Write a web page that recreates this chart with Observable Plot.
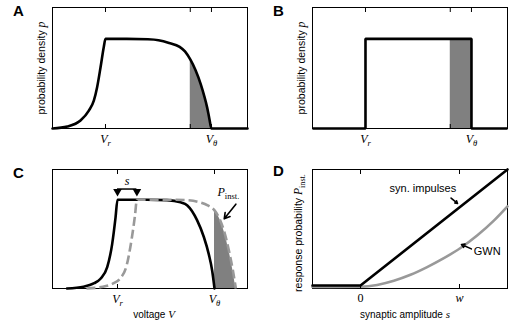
<!DOCTYPE html>
<html><head><meta charset="utf-8">
<script src="https://cdn.jsdelivr.net/npm/d3@7"></script>
<script src="https://cdn.jsdelivr.net/npm/@observablehq/plot@0.6"></script>
<style>
body{margin:0;background:#fff;}
#fig{position:relative;width:520px;height:321px;overflow:hidden;}
#fig svg{position:absolute;}
</style></head><body><div id="fig"></div>
<script>
// ---------- data ----------
// Panels A & B: voltage axis, V_r = 0, V_theta = 1
const ticksAB = [0, 0.8, 1];
const tickValsAB = [0, 1];
const tickLabelsAB = ["$V_r$", "$V_θ$"];
const shadeFromAB = 0.8;
const densityA = [[-0.5,0],[-0.36,0.022],[-0.236,0.089],[-0.157,0.2],[-0.11,0.31],[-0.079,0.46],[-0.047,0.68],[-0.016,0.91],[0,1.0],[0.2,1.0],[0.4,0.995],[0.5,0.985],[0.6,0.955],[0.7,0.91],[0.75,0.86],[0.8,0.77],[0.85,0.65],[0.9,0.49],[0.93,0.37],[0.96,0.23],[0.98,0.11],[1.0,0],[1.34,0]];
const densityB = [[-0.5,0],[0,0],[0,1],[1,1],[1,0],[1.34,0]];
const shadeB = [[0.8,1],[1,1]];
// Panel C
const ticksC = [0, 1];
const tickLabelsC = ["$V_r$", "$V_θ$"];
const densityC = [[-0.52,0],[-0.35,0.02],[-0.24,0.06],[-0.175,0.11],[-0.106,0.24],[-0.055,0.5],[-0.02,0.8],[0,1.0],[0.3,1.0],[0.51,0.995],[0.65,0.97],[0.72,0.935],[0.82,0.77],[0.89,0.58],[0.94,0.39],[0.976,0.2],[1.0,0]];
const shiftedC = [[-0.32,0],[-0.15,0.02],[-0.04,0.06],[0.025,0.11],[0.094,0.26],[0.145,0.55],[0.18,0.82],[0.2,1.0],[0.5,1.0],[0.71,0.995],[0.85,0.97],[0.93,0.935],[1.0,0.88],[1.05,0.79],[1.1,0.64],[1.15,0.42],[1.19,0.2],[1.22,0]];
const shadeFromC = 1.0;
const sBracket = [{x1: 0, x2: 0.2, y: 1.12}];
const sEnds = [0, 0.2];
const sLabel = [{x: 0.1, y: 1.21, text: "$s$"}];
const pLabel = [{x: 1.03, y: 1.08, text: "$P_{inst.}$"}];
const arrowC = [{x1: 1.22, y1: 0.95, x2: 1.1, y2: 0.785}];
// Panel D
const ticksD = [0, 1];
const tickLabelsD = ["$0$", "$w$"];
const synImpulses = [[-0.485,0.025],[0,0.025],[1.485,1.0]];
const gwn = [[-0.485,0.012],[0,0.015],[0.168,0.03],[0.337,0.065],[0.505,0.115],[0.673,0.18],[0.842,0.255],[1.01,0.34],[1.178,0.445],[1.347,0.57],[1.485,0.69]];
const labelsD = [{x: 0.63, y: 0.84, text: "syn. impulses"}, {x: 1.28, y: 0.31, text: "GWN"}];
const arrowsD = [{x1: 0.915, y1: 0.76, x2: 0.98, y2: 0.715}, {x1: 1.12, y1: 0.333, x2: 1.02, y2: 0.37}];

// ---------- helpers ----------
const GRAY = "#808080", LGRAY = "#999999";
const SANS = "Liberation Sans, Arial, Helvetica, sans-serif";
const SERIF = "Liberation Serif, DejaVu Serif, serif";
const baseStyle = {fontFamily: SANS, fontSize: "11px", background: "transparent", overflow: "visible", color: "black"};
const X = d => d[0], Y = d => d[1];

function tickMarks(vals) {
  return [
    Plot.axisX(vals, {anchor: "top", tickSize: -4, tickFormat: () => "", label: null, strokeWidth: 1}),
    Plot.axisX(vals, {anchor: "bottom", tickSize: -4, tickFormat: () => "", label: null, strokeWidth: 1})
  ];
}
function tickText(vals, labels, dy) {
  return Plot.text(vals, {x: d => d, text: (d, i) => labels[i], frameAnchor: "bottom", lineAnchor: "middle", dy, fontSize: 11});
}
function letter(l, dx, dy) {
  return Plot.text([l], {text: d => d, frameAnchor: "top-left", lineAnchor: "middle", dx, dy, fontWeight: "bold", fontSize: 15, textAnchor: "middle"});
}
function ylab(t, dx, dy = 0) {
  return Plot.text([t], {text: d => d, frameAnchor: "left", textAnchor: "middle", lineAnchor: "middle", rotate: -90, dx, dy, fontSize: 10.5});
}
function xlab(t, dy, dx = 0) {
  return Plot.text([t], {text: d => d, frameAnchor: "bottom", lineAnchor: "middle", dx, dy, fontSize: 10});
}

function richText(svg) {
  svg.querySelectorAll("text").forEach(el => {
    const s = el.textContent;
    if (!s.includes("$")) return;
    const fs = parseFloat(getComputedStyle(el).fontSize) || 11;
    while (el.firstChild) el.removeChild(el.firstChild);
    let pending = 0;
    const add = (txt, attrs) => {
      const t = document.createElementNS("http://www.w3.org/2000/svg", "tspan");
      t.textContent = txt;
      for (const k in attrs) t.setAttribute(k, attrs[k]);
      el.appendChild(t);
    };
    s.split("$").forEach((p, i) => {
      if (!p) return;
      if (i % 2 === 0) {
        const a = {};
        if (pending) { a.dy = pending; pending = 0; }
        add(p, a);
        return;
      }
      const re = /_\{([^}]*)\}|_(.)|(.)/gu;
      let m;
      while ((m = re.exec(p))) {
        if (m[1] !== undefined || m[2] !== undefined) {
          const sub = m[1] !== undefined ? m[1] : m[2];
          const italic = m[2] !== undefined;
          const d = fs * 0.28;
          add(sub, {"font-family": SERIF, "font-style": italic ? "italic" : "normal", "font-size": fs * 0.78, dy: d + pending});
          pending = -d;
        } else {
          const c = m[3];
          const a = {"font-family": SERIF, "font-style": /[A-Za-zθ]/.test(c) ? "italic" : "normal", "font-size": fs * 1.1};
          if (pending) { a.dy = pending; pending = 0; }
          add(c, a);
        }
      }
    });
  });
}

const fig = document.getElementById("fig");
function place(svg, left, top) {
  svg.style.left = left + "px";
  svg.style.top = top + "px";
  fig.appendChild(svg);
  richText(svg);
}

const common = {width: 260, marginLeft: 52, marginRight: 13, style: baseStyle};

// ---------- Panel A ----------
place(Plot.plot({
  ...common, height: 160, marginTop: 7, marginBottom: 32,
  x: {domain: [-0.5, 1.34], axis: null}, y: {domain: [0, 1.35], axis: null},
  marks: [
    Plot.areaY(densityA.filter(d => d[0] >= shadeFromAB), {x: X, y: Y, fill: GRAY, curve: "monotone-x"}),
    Plot.frame({stroke: "black", strokeWidth: 1}),
    Plot.line(densityA, {x: X, y: Y, stroke: "black", strokeWidth: 2.6, curve: "monotone-x"}),
    ...tickMarks(ticksAB),
    tickText(tickValsAB, tickLabelsAB, 11),
    ylab("probability density $p$", -11),
    letter("A", -34, 4)
  ]
}), 0, 0);

// ---------- Panel B ----------
place(Plot.plot({
  ...common, height: 160, marginTop: 7, marginBottom: 32,
  x: {domain: [-0.5, 1.34], axis: null}, y: {domain: [0, 1.35], axis: null},
  marks: [
    Plot.areaY(shadeB, {x: X, y: Y, fill: GRAY}),
    Plot.frame({stroke: "black", strokeWidth: 1}),
    Plot.line(densityB, {x: X, y: Y, stroke: "black", strokeWidth: 2.6, strokeLinejoin: "miter", strokeLinecap: "butt"}),
    ...tickMarks(ticksAB),
    tickText(tickValsAB, tickLabelsAB, 11),
    ylab("probability density $p$", -11),
    letter("B", -34, 4)
  ]
}), 260, 0);

// ---------- Panel C ----------
place(Plot.plot({
  ...common, height: 161, marginTop: 9, marginBottom: 33,
  x: {domain: [-0.67, 1.34], axis: null}, y: {domain: [0, 1.34], axis: null},
  marks: [
    Plot.areaY(shiftedC.filter(d => d[0] >= shadeFromC), {x: X, y: Y, fill: GRAY, curve: "monotone-x"}),
    Plot.frame({stroke: "black", strokeWidth: 1}),
    Plot.line(densityC, {x: X, y: Y, stroke: "black", strokeWidth: 2.6, curve: "monotone-x"}),
    Plot.line(shiftedC, {x: X, y: Y, stroke: LGRAY, strokeWidth: 2.6, strokeDasharray: "9,4", strokeLinecap: "butt", curve: "monotone-x"}),
    ...tickMarks(ticksC),
    tickText(ticksC, tickLabelsC, 11),
    xlab("voltage $V$", 26, 4),
    Plot.ruleY(sBracket, {x1: "x1", x2: "x2", y: "y", stroke: "black", strokeWidth: 1.5}),
    Plot.dot(sEnds, {x: d => d, y: sBracket[0].y, dy: 2.5, symbol: "triangle", rotate: 180, r: 3.2, fill: "black", stroke: "none"}),
    Plot.text(sLabel, {x: "x", y: "y", text: "text", fontSize: 11}),
    Plot.text(pLabel, {x: "x", y: "y", text: "text", fontSize: 11, textAnchor: "start"}),
    Plot.arrow(arrowC, {x1: "x1", y1: "y1", x2: "x2", y2: "y2", stroke: "black", strokeWidth: 1.6, headLength: 6}),
    letter("C", -34, 4)
  ]
}), 0, 160);

// ---------- Panel D ----------
place(Plot.plot({
  ...common, height: 161, marginTop: 9, marginBottom: 33,
  x: {domain: [-0.485, 1.485], axis: null}, y: {domain: [0, 1], axis: null},
  marks: [
    Plot.frame({stroke: "black", strokeWidth: 1}),
    Plot.line(gwn, {x: X, y: Y, stroke: LGRAY, strokeWidth: 2.6, curve: "monotone-x"}),
    Plot.line(synImpulses, {x: X, y: Y, stroke: "black", strokeWidth: 2.6}),
    ...tickMarks(ticksD),
    tickText(ticksD, tickLabelsD, 10),
    xlab("synaptic amplitude $s$", 26, -5),
    ylab("response probability $P_{inst.}$", -14, 4),
    Plot.text(labelsD, {x: "x", y: "y", text: "text", fontSize: 11}),
    Plot.arrow(arrowsD, {x1: "x1", y1: "y1", x2: "x2", y2: "y2", stroke: "black", strokeWidth: 1.6, headLength: 6}),
    letter("D", -34, 2)
  ]
}), 260, 160);
</script></body></html>
